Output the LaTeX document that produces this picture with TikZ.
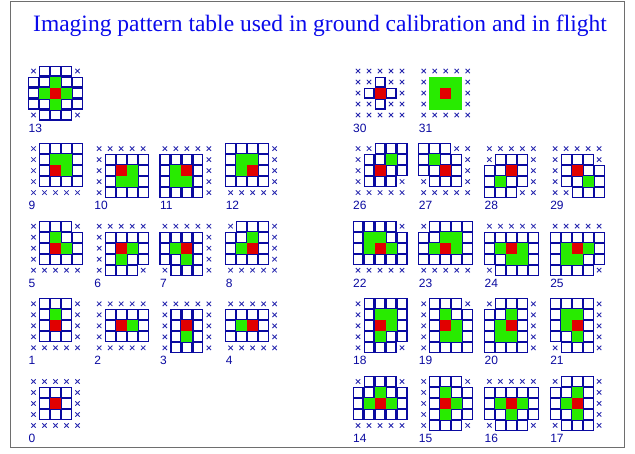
\documentclass[tikz,border=0pt]{standalone}
\usepackage{fontspec}
\setmainfont{Liberation Serif}
\newfontfamily\labfont{Liberation Sans}
\definecolor{gridblue}{RGB}{10,10,160}
\definecolor{crossblue}{RGB}{40,40,175}
\definecolor{pgreen}{RGB}{40,235,0}
\definecolor{pred}{RGB}{225,0,0}
\definecolor{titleblue}{RGB}{10,10,235}
\definecolor{framegray}{RGB}{110,110,110}
\tikzset{
  cellbox/.style={draw=gridblue, line width=1.1pt},
  xmark/.style={draw=crossblue, line width=0.85pt},
  patlabel/.style={font=\labfont\fontsize{12}{12}\selectfont, text=gridblue, anchor=west, inner sep=0pt},
}
\newcommand\pat[4]{%
  \begin{scope}[shift={(#1,#2)}]
  \foreach \code [count=\i from 0] in {#4} {%
    \pgfmathtruncatemacro\cc{mod(\i,5)}%
    \pgfmathtruncatemacro\rr{div(\i,5)}%
    \if x\code \draw[xmark] (\cc*11+3.3,\rr*11+3.3) -- ++(4.4,4.4) (\cc*11+7.7,\rr*11+3.3) -- ++(-4.4,4.4);\fi
    \if o\code \draw[cellbox] (\cc*11+0.55,\rr*11+0.55) rectangle ++(9.9,9.9);\fi
    \if g\code \fill[pgreen] (\cc*11,\rr*11) rectangle ++(11,11);\fi
    \if r\code \fill[pred] (\cc*11,\rr*11) rectangle ++(11,11);\fi
  }
  \node[patlabel] (lab#3) at (0.5,62.5) {#3};
  \end{scope}}
\begin{document}
\begin{tikzpicture}[x=1pt,y=-1pt]
\useasboundingbox (0,0) rectangle (635,453);
\draw[framegray, line width=1.2pt] (10.5,1.5) rectangle (624.5,447.5);
\node[font=\fontsize{23.5}{24}\selectfont, text=titleblue, anchor=base] (title) at (320,31.5) {Imaging pattern table used in ground calibration and in flight};
% left block
\pat{28}{65.5}{13}{x,o,o,o,x, o,o,g,o,o, o,g,r,g,o, o,o,g,o,o, x,o,o,o,x}
\pat{28}{143.1}{9}{x,o,o,o,o, x,o,g,g,o, x,o,r,g,o, x,o,o,o,o, x,x,x,x,x}
\pat{93.7}{143.1}{10}{x,x,x,x,x, x,o,o,o,o, x,o,r,g,o, x,o,g,g,o, x,o,o,o,o}
\pat{159.4}{143.1}{11}{x,x,x,x,x, o,o,o,o,x, o,g,r,o,x, o,g,g,o,x, o,o,o,o,x}
\pat{225.1}{143.1}{12}{o,o,o,o,x, o,g,g,o,x, o,g,r,o,x, o,o,o,o,x, x,x,x,x,x}
\pat{28}{220.7}{5}{x,o,o,o,x, x,o,g,o,o, x,o,r,g,o, x,o,o,o,o, x,x,x,x,x}
\pat{93.7}{220.7}{6}{x,x,x,x,x, x,o,o,o,o, x,o,r,g,o, x,o,g,o,o, x,o,o,o,x}
\pat{159.4}{220.7}{7}{x,x,x,x,x, o,o,o,o,x, o,g,r,o,x, o,o,g,o,x, x,o,o,o,x}
\pat{225.1}{220.7}{8}{x,o,o,o,x, o,o,g,o,x, o,g,r,o,x, o,o,o,o,x, x,x,x,x,x}
\pat{28}{298.3}{1}{x,o,o,o,x, x,o,g,o,x, x,o,r,o,x, x,o,o,o,x, x,x,x,x,x}
\pat{93.7}{298.3}{2}{x,x,x,x,x, x,o,o,o,o, x,o,r,g,o, x,o,o,o,o, x,x,x,x,x}
\pat{159.4}{298.3}{3}{x,x,x,x,x, x,o,o,o,x, x,o,r,o,x, x,o,g,o,x, x,o,o,o,x}
\pat{225.1}{298.3}{4}{x,x,x,x,x, o,o,o,o,x, o,g,r,o,x, o,o,o,o,x, x,x,x,x,x}
\pat{28}{375.9}{0}{x,x,x,x,x, x,o,o,o,x, x,o,r,o,x, x,o,o,o,x, x,x,x,x,x}
% right block
\pat{352.5}{65.5}{30}{x,x,x,x,x, x,x,o,x,x, x,o,r,o,x, x,x,o,x,x, x,x,x,x,x}
\pat{418.2}{65.5}{31}{x,x,x,x,x, x,g,g,g,x, x,g,r,g,x, x,g,g,g,x, x,x,x,x,x}
\pat{352.5}{143.1}{26}{x,x,o,o,o, x,o,o,g,o, x,o,r,o,o, x,o,o,o,x, x,x,x,x,x}
\pat{418.2}{143.1}{27}{o,o,o,x,x, o,g,o,o,x, o,o,r,o,x, x,o,o,o,x, x,x,x,x,x}
\pat{483.9}{143.1}{28}{x,x,x,x,x, x,o,o,o,x, o,o,r,o,x, o,g,o,o,x, o,o,o,x,x}
\pat{549.6}{143.1}{29}{x,x,x,x,x, x,o,o,o,x, x,o,r,o,o, x,o,o,g,o, x,x,o,o,o}
\pat{352.5}{220.7}{22}{o,o,o,o,x, o,g,g,o,o, o,g,r,g,o, o,o,o,o,o, x,x,x,x,x}
\pat{418.2}{220.7}{23}{x,o,o,o,o, o,o,g,g,o, o,g,r,g,o, o,o,o,o,o, x,x,x,x,x}
\pat{483.9}{220.7}{24}{x,x,x,x,x, o,o,o,o,o, o,g,r,g,o, o,o,g,g,o, x,o,o,o,o}
\pat{549.6}{220.7}{25}{x,x,x,x,x, o,o,o,o,o, o,g,r,g,o, o,g,g,o,o, o,o,o,o,x}
\pat{352.5}{298.3}{18}{x,o,o,o,o, x,o,g,g,o, x,o,r,g,o, x,o,g,o,o, x,o,o,o,x}
\pat{418.2}{298.3}{19}{x,o,o,o,x, x,o,g,o,o, x,o,r,g,o, x,o,g,g,o, x,o,o,o,o}
\pat{483.9}{298.3}{20}{x,o,o,o,x, o,o,g,o,x, o,g,r,o,x, o,g,g,o,x, o,o,o,o,x}
\pat{549.6}{298.3}{21}{o,o,o,o,x, o,g,g,o,x, o,g,r,o,x, o,o,g,o,x, x,o,o,o,x}
\pat{352.5}{375.9}{14}{x,o,o,o,x, o,o,g,o,o, o,g,r,g,o, o,o,o,o,o, x,x,x,x,x}
\pat{418.2}{375.9}{15}{x,o,o,o,x, x,o,g,o,o, x,o,r,g,o, x,o,g,o,o, x,o,o,o,x}
\pat{483.9}{375.9}{16}{x,x,x,x,x, o,o,o,o,o, o,g,r,g,o, o,o,g,o,o, x,o,o,o,x}
\pat{549.6}{375.9}{17}{x,o,o,o,x, o,o,g,o,x, o,g,r,o,x, o,o,g,o,x, x,o,o,o,x}
\end{tikzpicture}
\end{document}
